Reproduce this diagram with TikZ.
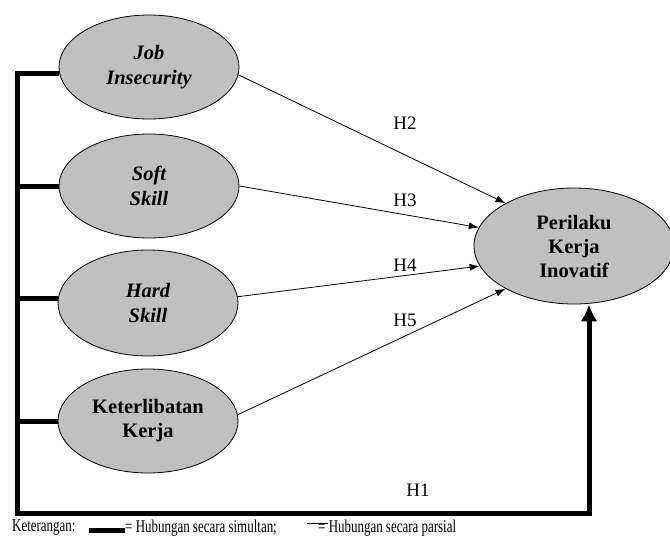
\documentclass[tikz,border=0pt]{standalone}
\usepackage{fontspec}
\setmainfont{Liberation Serif}
\usepackage{graphicx}
\usetikzlibrary{arrows.meta,shapes.geometric}
\definecolor{VarFill}{RGB}{192,192,192}
\newcommand{\ketfont}{\fontsize{18}{20}\selectfont}

\begin{document}
\begin{tikzpicture}[x=1pt,y=-1pt,
  var/.style={ellipse,draw,fill=VarFill,line width=0.8pt,minimum width=180pt,minimum height=104pt,inner sep=0pt,align=center,font=\fontsize{20.5}{24}\selectfont\bfseries},
  vari/.style={var,font=\fontsize{20.5}{25}\selectfont\bfseries\itshape},
  parsial/.style={line width=0.8pt,-{Latex[length=10pt,width=7pt]}},
  simultan/.style={line width=5pt,line join=miter},
  hyp/.style={font=\fontsize{19}{22}\selectfont,inner sep=0pt},
  ket/.style={anchor=west,inner sep=0pt,font=\ketfont}]
\useasboundingbox (0,0) rectangle (670,536);
% variabel
\node[vari] (ji) at (149,67) {Job\\Insecurity};
\node[vari] (ss) at (149,186) {Soft\\Skill};
\node[vari,minimum height=106pt] (hs) at (148,303) {Hard\\Skill};
\node[var] (kk) at (148,421) {Keterlibatan\\Kerja};
\node[var,minimum width=200pt,minimum height=116pt] (pki) at (574,246) {Perilaku\\Kerja\\Inovatif};
% hubungan parsial
\draw[parsial] (ji.-5) -- (pki.148);
\draw[parsial] (ss.east) -- (pki.169);
\draw[parsial] (hs.4) -- (pki.192);
\draw[parsial] (kk.4) -- (pki.212);
\foreach \y/\h in {123/H2,200/H3,265/H4,320/H5} {
   \node[hyp] (\h) at (405,\y) {\h};
}
% hubungan simultan
\coordinate (kiri) at (17,513);
\coordinate (kanan) at (589,513);
\foreach \n/\a in {ji/184,ss/180,hs/177,kk/180} {
   \draw[simultan] (\n.\a) -- (\n.\a -| kiri);
}
\draw[simultan,line cap=rect,-{Latex[length=17pt,width=17pt]}] (ji.184 -| kiri) -- (kiri) -- (kanan) -- (kanan |- pki.south);
\node[hyp] (H1) at (418,490) {H1};
% keterangan
\node[ket] (ket) at (12,528) {\scalebox{0.72}[1]{Keterangan:}};
\node[ket] (sim) at (125,528) {\scalebox{0.72}[1]{= Hubungan secara simultan;}};
\node[ket] (par) at (318,528) {\scalebox{0.72}[1]{= Hubungan secara parsial}};
\draw[line width=5pt] ([yshift=-2pt]sim.west) -- ++(-36,0);
\draw[line width=0.8pt] ([xshift=-11pt,yshift=5pt]par.west) -- ++(21,0);
\end{tikzpicture}
\end{document}
